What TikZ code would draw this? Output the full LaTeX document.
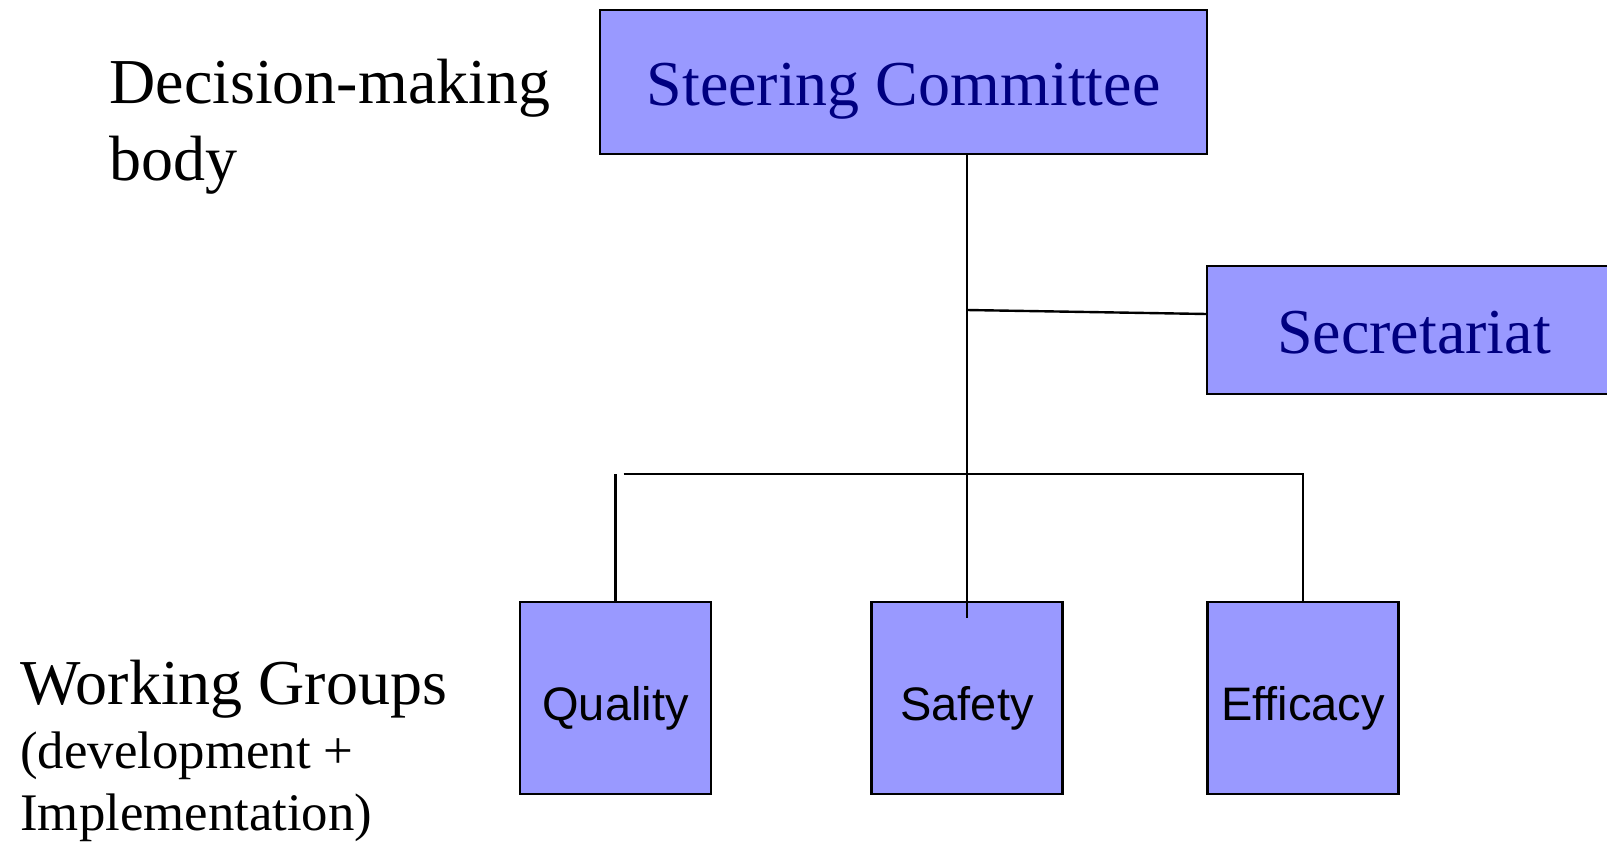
\documentclass[tikz,border=0pt]{standalone}
\usepackage{fontspec}
\setmainfont{Liberation Serif}
\newfontfamily\arialfont{Liberation Sans}
\definecolor{boxfill}{RGB}{153,153,255}
\definecolor{navytext}{RGB}{0,0,128}
\tikzset{
  orgbox/.style={draw, line width=1.25pt, fill=boxfill, inner sep=0pt, outer sep=0pt, text depth=0pt},
  topbox/.style={orgbox, text=navytext, text height=23.8pt, font=\fontsize{32}{38}\selectfont},
  groupbox/.style={orgbox, minimum width=95.5pt, minimum height=96pt, text height=22.5pt, font=\arialfont\fontsize{23.5}{28}\selectfont},
  sidelabel/.style={inner sep=0pt, align=left},
  link/.style={line width=1.2pt}
}
\begin{document}
\begin{tikzpicture}[x=0.5pt,y=0.5pt,yscale=-1,xscale=1]
\useasboundingbox (0,0) rectangle (1607,841);

%Shape: Rectangle
\node (steer) [topbox, minimum width=303.5pt, minimum height=72pt] at (903.5,82) {Steering Committee};
%Shape: Rectangle
\node (secr) [topbox, minimum width=207pt, minimum height=64pt] at (1414,330) {Secretariat};
%Shape: Rectangle
\node (quality) [groupbox] at (615.5,698) {Quality};
%Shape: Rectangle
\node (safety) [groupbox] at (967,698) {Safety};
%Shape: Rectangle
\node (efficacy) [groupbox] at (1303,698) {Efficacy};

% Text Node
\node (decision) [sidelabel, anchor=base west, font=\fontsize{32}{38.3}\selectfont] at (109,180) {Decision-making\\body};
% Text Node
\node (working) [sidelabel, anchor=base west, font=\fontsize{32}{38}\selectfont] at (20,704) {Working Groups};
% Text Node
\node (devnote) [sidelabel, anchor=base west, font=\fontsize{26.4}{30.8}\selectfont] at (20,830) {(development +\\Implementation)};

%Straight Lines
\coordinate (secjoin) at (967,310);
\coordinate (bar) at (967,474);
\draw [link] (safety.north |- steer.south) -- (safety.north) -- ++(0,16);
\draw [link] (secjoin) -- (secr.west |- 0,314);
\draw [link] (quality.north) -- (quality.north |- bar);
\draw [link] ([xshift=4pt]quality.north |- bar) -- (efficacy.north |- bar) -- (efficacy.north);

\end{tikzpicture}
\end{document}
